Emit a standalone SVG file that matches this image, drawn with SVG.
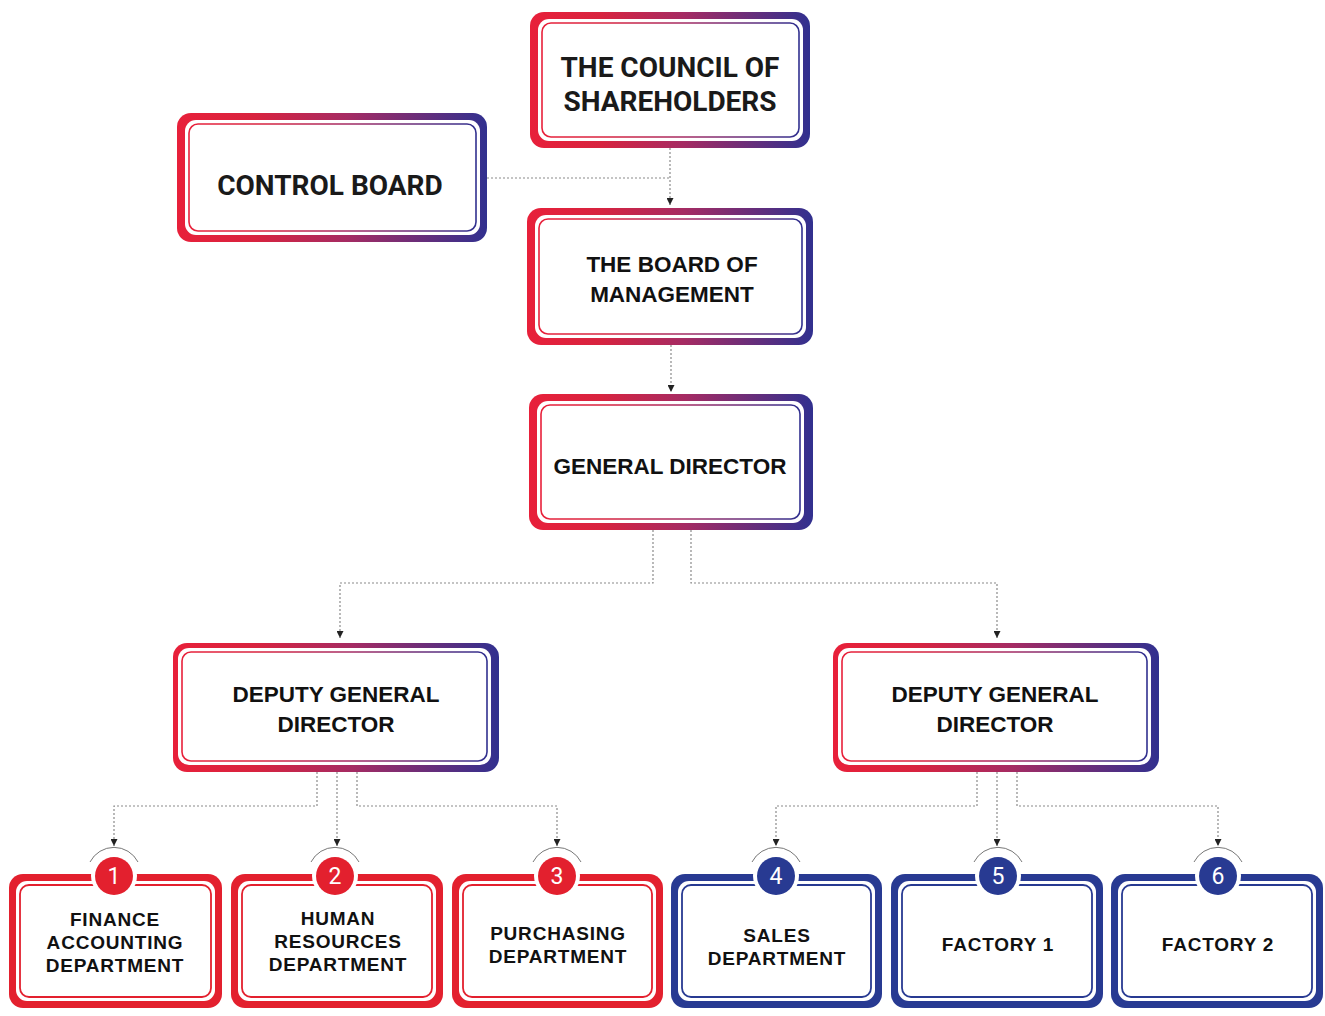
<svg xmlns="http://www.w3.org/2000/svg" width="1325" height="1016" viewBox="0 0 1325 1016">
<defs>
<linearGradient id="g" x1="0" y1="0" x2="1" y2="0">
<stop offset="0" stop-color="#e8203a"/>
<stop offset="0.25" stop-color="#d8233f"/>
<stop offset="0.55" stop-color="#a52b63"/>
<stop offset="1" stop-color="#31308f"/>
</linearGradient>
<marker id="arr" viewBox="0 0 8 8" refX="8" refY="4" markerWidth="7" markerHeight="7" orient="auto" markerUnits="userSpaceOnUse">
<path d="M0,0 L8,4 L0,8 z" fill="#222"/>
</marker>
<style>
.o{fill:url(#g)}
.w{fill:#fff}
.l{fill:none;stroke:url(#g);stroke-width:1.6}
.or{fill:#e3202e}
.ob{fill:#283a92}
.lr{fill:none;stroke:#e3202e;stroke-width:1.8}
.lb{fill:none;stroke:#283a92;stroke-width:1.8}
.t1{font-family:Roboto,"Liberation Sans",sans-serif;font-weight:700;font-size:28px;fill:#1a1a1a;text-anchor:middle}
.t2{font-family:"Liberation Sans",Arial,sans-serif;font-weight:700;font-size:22.5px;fill:#111;text-anchor:middle}
.t3{font-family:"Liberation Sans",Arial,sans-serif;font-weight:700;font-size:19px;letter-spacing:0.8px;fill:#111;text-anchor:middle}
.n{font-family:Roboto,"Liberation Sans",sans-serif;font-size:23px;fill:#fff;text-anchor:middle}
.c{fill:none;stroke:#8a8a8a;stroke-width:1.2;stroke-dasharray:2 2}
.arc{fill:none;stroke:#777;stroke-width:1}
</style>
</defs>
<rect width="1325" height="1016" fill="#fff"/>

<g id="connectors">
<path class="c" d="M670,148 V205" marker-end="url(#arr)"/>
<path class="c" d="M487,178 H670"/>
<path class="c" d="M671,345 V392" marker-end="url(#arr)"/>
<path class="c" d="M653,530 V583 H340 V638" marker-end="url(#arr)"/>
<path class="c" d="M691,530 V583 H997 V638" marker-end="url(#arr)"/>
<path class="c" d="M317,772 V806 H114 V846" marker-end="url(#arr)"/>
<path class="c" d="M337,772 V846" marker-end="url(#arr)"/>
<path class="c" d="M357,772 V806 H557 V846" marker-end="url(#arr)"/>
<path class="c" d="M977,772 V806 H776 V846" marker-end="url(#arr)"/>
<path class="c" d="M997,772 V846" marker-end="url(#arr)"/>
<path class="c" d="M1017,772 V806 H1218 V846" marker-end="url(#arr)"/>
</g>

<g id="council">
<rect class="o" x="530" y="12" width="280" height="136" rx="14"/>
<rect class="w" x="538" y="19" width="265" height="122" rx="11"/>
<rect class="l" x="542" y="23" width="257" height="114" rx="9"/>
<text class="t1" x="670" y="77">THE COUNCIL OF</text>
<text class="t1" x="670" y="111">SHAREHOLDERS</text>
</g>

<g id="control-board">
<rect class="o" x="177" y="113" width="310" height="129" rx="14"/>
<rect class="w" x="185" y="120" width="295" height="115" rx="11"/>
<rect class="l" x="189" y="124" width="287" height="107" rx="9"/>
<text class="t1" x="330" y="195">CONTROL BOARD</text>
</g>

<g id="board-of-management">
<rect class="o" x="527" y="208" width="286" height="137" rx="14"/>
<rect class="w" x="535" y="215" width="271" height="123" rx="11"/>
<rect class="l" x="539" y="219" width="263" height="115" rx="9"/>
<text class="t2" x="672" y="272">THE BOARD OF</text>
<text class="t2" x="672" y="302">MANAGEMENT</text>
</g>

<g id="general-director">
<rect class="o" x="529" y="394" width="284" height="136" rx="14"/>
<rect class="w" x="537" y="401" width="267" height="122" rx="11"/>
<rect class="l" x="541" y="405" width="259" height="114" rx="9"/>
<text class="t2" x="670" y="474">GENERAL DIRECTOR</text>
</g>

<g id="deputy-left">
<rect class="o" x="173" y="643" width="326" height="129" rx="14"/>
<rect class="w" x="178" y="648" width="313" height="117" rx="11"/>
<rect class="l" x="182" y="652" width="305" height="109" rx="9"/>
<text class="t2" x="336" y="702">DEPUTY GENERAL</text>
<text class="t2" x="336" y="732">DIRECTOR</text>
</g>

<g id="deputy-right">
<rect class="o" x="833" y="643" width="326" height="129" rx="14"/>
<rect class="w" x="838" y="648" width="313" height="117" rx="11"/>
<rect class="l" x="842" y="652" width="305" height="109" rx="9"/>
<text class="t2" x="995" y="702">DEPUTY GENERAL</text>
<text class="t2" x="995" y="732">DIRECTOR</text>
</g>

<g id="dept-1">
<rect class="or" x="9" y="874" width="213" height="134" rx="14"/>
<rect class="w" x="16" y="881" width="199" height="120" rx="11"/>
<rect class="lr" x="20" y="885" width="191" height="112" rx="9"/>
<circle class="w" cx="114" cy="876" r="23"/>
<path class="arc" d="M90,862 A27,27 0 0 1 138,862"/>
<circle class="or" cx="114" cy="876" r="19"/>
<text class="n" x="114" y="884">1</text>
<text class="t3" x="115" y="926">FINANCE</text>
<text class="t3" x="115" y="949">ACCOUNTING</text>
<text class="t3" x="115" y="972">DEPARTMENT</text>
</g>

<g id="dept-2">
<rect class="or" x="231" y="874" width="212" height="134" rx="14"/>
<rect class="w" x="238" y="881" width="198" height="120" rx="11"/>
<rect class="lr" x="242" y="885" width="190" height="112" rx="9"/>
<circle class="w" cx="335" cy="876" r="23"/>
<path class="arc" d="M311,862 A27,27 0 0 1 359,862"/>
<circle class="or" cx="335" cy="876" r="19"/>
<text class="n" x="335" y="884">2</text>
<text class="t3" x="338" y="925">HUMAN</text>
<text class="t3" x="338" y="948">RESOURCES</text>
<text class="t3" x="338" y="971">DEPARTMENT</text>
</g>

<g id="dept-3">
<rect class="or" x="452" y="874" width="211" height="134" rx="14"/>
<rect class="w" x="459" y="881" width="197" height="120" rx="11"/>
<rect class="lr" x="463" y="885" width="189" height="112" rx="9"/>
<circle class="w" cx="557" cy="876" r="23"/>
<path class="arc" d="M533,862 A27,27 0 0 1 581,862"/>
<circle class="or" cx="557" cy="876" r="19"/>
<text class="n" x="557" y="884">3</text>
<text class="t3" x="558" y="940">PURCHASING</text>
<text class="t3" x="558" y="963">DEPARTMENT</text>
</g>

<g id="dept-4">
<rect class="ob" x="671" y="874" width="211" height="134" rx="14"/>
<rect class="w" x="678" y="881" width="197" height="120" rx="11"/>
<rect class="lb" x="682" y="885" width="189" height="112" rx="9"/>
<circle class="w" cx="776" cy="876" r="23"/>
<path class="arc" d="M752,862 A27,27 0 0 1 800,862"/>
<circle class="ob" cx="776" cy="876" r="19"/>
<text class="n" x="776" y="884">4</text>
<text class="t3" x="777" y="942">SALES</text>
<text class="t3" x="777" y="965">DEPARTMENT</text>
</g>

<g id="dept-5">
<rect class="ob" x="891" y="874" width="212" height="134" rx="14"/>
<rect class="w" x="898" y="881" width="198" height="120" rx="11"/>
<rect class="lb" x="902" y="885" width="190" height="112" rx="9"/>
<circle class="w" cx="998" cy="876" r="23"/>
<path class="arc" d="M974,862 A27,27 0 0 1 1022,862"/>
<circle class="ob" cx="998" cy="876" r="19"/>
<text class="n" x="998" y="884">5</text>
<text class="t3" x="998" y="951">FACTORY 1</text>
</g>

<g id="dept-6">
<rect class="ob" x="1111" y="874" width="212" height="134" rx="14"/>
<rect class="w" x="1118" y="881" width="198" height="120" rx="11"/>
<rect class="lb" x="1122" y="885" width="190" height="112" rx="9"/>
<circle class="w" cx="1218" cy="876" r="23"/>
<path class="arc" d="M1194,862 A27,27 0 0 1 1242,862"/>
<circle class="ob" cx="1218" cy="876" r="19"/>
<text class="n" x="1218" y="884">6</text>
<text class="t3" x="1218" y="951">FACTORY 2</text>
</g>
</svg>
